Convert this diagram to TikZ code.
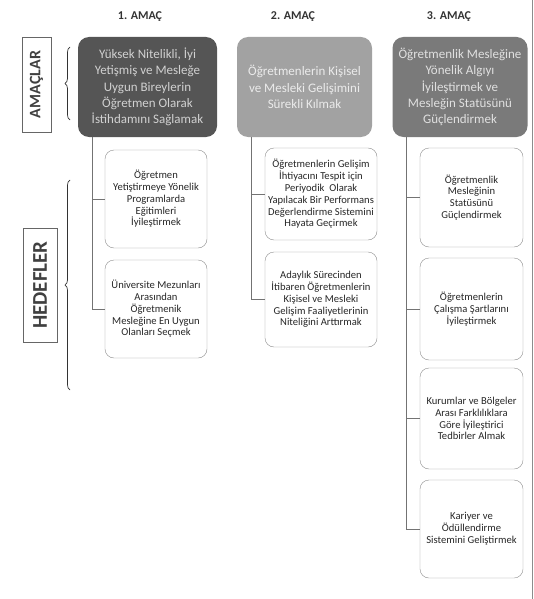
\documentclass[tikz,border=0pt]{standalone}
\usepackage{fontspec}
\setmainfont{Carlito}
\usetikzlibrary{decorations.pathreplacing}
\definecolor{amacbir}{HTML}{555555}
\definecolor{amaciki}{HTML}{A2A2A2}
\definecolor{amacuc}{HTML}{7A7A7A}

\begin{document}
\begin{tikzpicture}[x=1pt,y=1pt]
              \tikzstyle{every node}+=[inner sep=0pt]
              \tikzstyle{amac}=[rounded corners=11pt, align=center, text=black!18, minimum height=100pt, font=\fontsize{13}{16.3}\selectfont]
              \tikzstyle{hedef}=[draw=black!45, rounded corners=9pt, align=center, font=\fontsize{10.6}{11.8}\selectfont, text=black!85]
              \tikzstyle{baslik}=[font=\bfseries\fontsize{12}{14}\selectfont, text=black!80]
              \tikzstyle{etiket}=[draw=black!60, line width=0.8pt, rotate=90, text=black!75]
              \tikzstyle{kol}=[draw=black!55, line width=0.5pt]
              \tikzstyle{parantez}=[draw=black!80, line width=0.7pt, decorate, decoration={brace, amplitude=5pt}]
              \useasboundingbox (0,0) rectangle (533,-599);
              \draw [black!45] (532,0) -- (532,-599);
              \node [baslik] (b1) at (140,-17) {1. AMAÇ};
              \node [baslik] (b2) at (293,-17) {2. AMAÇ};
              \node [baslik] (b3) at (449,-17) {3. AMAÇ};
              \node [etiket, minimum width=95pt, minimum height=29pt, font=\bfseries\fontsize{16}{18}\selectfont] (e1) at (36.5,-84.5) {AMAÇLAR};
              \node [etiket, minimum width=114pt, minimum height=34pt, font=\bfseries\fontsize{21}{24}\selectfont] (e2) at (40,-285) {HEDEFLER};
              \draw [parantez] (70,-120) -- (70,-47);
              \draw [parantez] (70,-390) -- (70,-180);
              \node [amac, fill=amacbir, minimum width=139pt] (a1) at (147.5,-87) {Yüksek Nitelikli, İyi\\Yetişmiş ve Mesleğe\\Uygun Bireylerin\\Öğretmen Olarak\\İstihdamını Sağlamak};
              \node [amac, fill=amaciki, text=black!8, minimum width=135pt] (a2) at (304.5,-87) {Öğretmenlerin Kişisel\\ve Mesleki Gelişimini\\Sürekli Kılmak};
              \node [amac, fill=amacuc, text=black!12, minimum width=135pt] (a3) at (460,-87) {Öğretmenlik Mesleğine\\Yönelik Algıyı\\İyileştirmek ve\\Mesleğin Statüsünü\\Güçlendirmek};
              \node [hedef, minimum width=102pt, minimum height=98pt] (h11) at (156,-199) {Öğretmen\\Yetiştirmeye Yönelik\\Programlarda\\Eğitimleri\\İyileştirmek};
              \node [hedef, minimum width=102pt, minimum height=98pt] (h12) at (156,-309) {Üniversite Mezunları\\Arasından\\Öğretmenik\\Mesleğine En Uygun\\Olanları Seçmek};
              \node [hedef, minimum width=112pt, minimum height=92pt] (h21) at (321,-194) {Öğretmenlerin Gelişim\\İhtiyacını Tespit için\\Periyodik~ Olarak\\Yapılacak Bir Performans\\Değerlendirme Sistemini\\Hayata Geçirmek};
              \node [hedef, minimum width=112pt, minimum height=95pt] (h22) at (321,-299.5) {Adaylık Sürecinden\\İtibaren Öğretmenlerin\\Kişisel ve Mesleki\\Gelişim Faaliyetlerinin\\Niteliğini Arttırmak};
              \node [hedef, minimum width=103pt, minimum height=99pt] (h31) at (471.5,-197.5) {Öğretmenlik\\Mesleğinin\\Statüsünü\\Güçlendirmek};
              \node [hedef, minimum width=103pt, minimum height=102pt] (h32) at (471.5,-309) {Öğretmenlerin\\Çalışma Şartlarını\\İyileştirmek};
              \node [hedef, minimum width=103pt, minimum height=101pt] (h33) at (471.5,-418.5) {Kurumlar ve Bölgeler\\Arası Farklılıklara\\Göre İyileştirici\\Tedbirler Almak};
              \node [hedef, minimum width=103pt, minimum height=98pt] (h34) at (471.5,-529) {Kariyer ve\\Ödüllendirme\\Sistemini Geliştirmek};
              \coordinate (k1) at (92,0);
              \coordinate (k2) at (251,0);
              \coordinate (k3) at (406,0);
              \draw [kol] (a1.south -| k1) |- (h11.west);
              \draw [kol] (a1.south -| k1) |- (h12.west);
              \draw [kol] (a2.south -| k2) |- (h21.west);
              \draw [kol] (a2.south -| k2) |- (h22.west);
              \draw [kol] (a3.south -| k3) |- (h31.west);
              \draw [kol] (a3.south -| k3) |- (h32.west);
              \draw [kol] (a3.south -| k3) |- (h33.west);
              \draw [kol] (a3.south -| k3) |- (h34.west);
            \end{tikzpicture}
\end{document}
